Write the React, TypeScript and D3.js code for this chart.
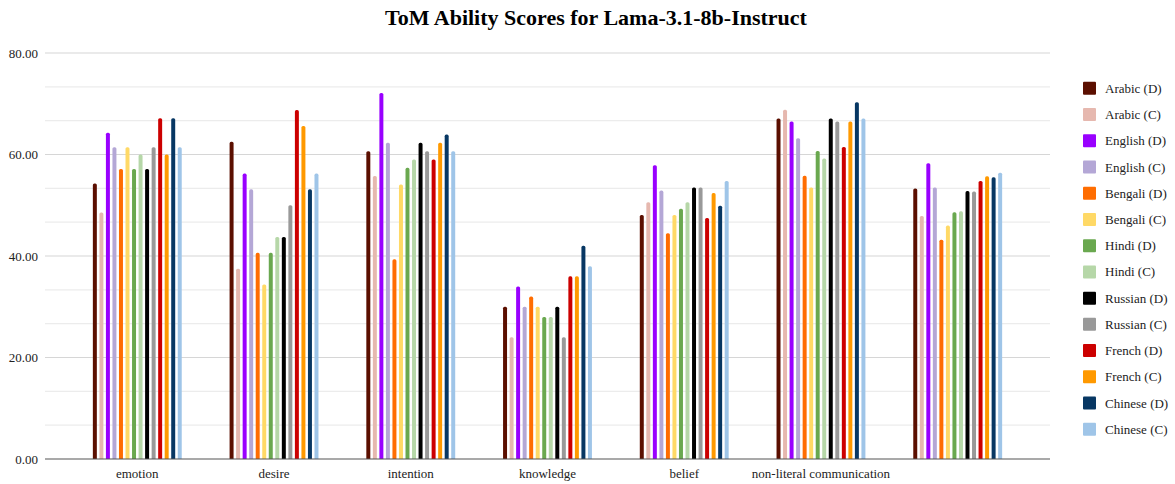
import React from 'react'
import * as d3 from 'd3'

const categories = ['emotion', 'desire', 'intention', 'knowledge', 'belief', 'non-literal communication', '']

const seriesNames = [
    'Arabic (D)', 'Arabic (C)', 'English (D)', 'English (C)', 'Bengali (D)', 'Bengali (C)', 'Hindi (D)',
    'Hindi (C)', 'Russian (D)', 'Russian (C)', 'French (D)', 'French (C)', 'Chinese (D)', 'Chinese (C)',
]

const seriesColors = [
    '#5b0f00', '#e6b8af', '#9900ff', '#b4a7d6', '#ff6d01', '#ffd966', '#6aa84f',
    '#b6d7a8', '#000000', '#999999', '#cc0000', '#ff9900', '#073763', '#9fc5e8',
]

// one row per category, one value per series (same order as seriesNames)
const emotion = [54.29, 48.57, 64.29, 61.43, 57.14, 61.43, 57.14, 60.0, 57.14, 61.43, 67.14, 60.0, 67.14, 61.43]
const desire = [62.5, 37.5, 56.25, 53.13, 40.63, 34.38, 40.63, 43.75, 43.75, 50.0, 68.75, 65.63, 53.13, 56.25]
const intention = [60.66, 55.74, 72.13, 62.3, 39.34, 54.1, 57.38, 59.02, 62.3, 60.66, 59.02, 62.3, 63.93, 60.66]
const knowledge = [30, 24, 34, 30, 32, 30, 28, 28, 30, 24, 36, 36, 42, 38]
const belief = [48.1, 50.6, 57.9, 52.9, 44.5, 48.1, 49.3, 50.6, 53.5, 53.5, 47.5, 52.4, 49.9, 54.8]
const nonLiteral = [67.1, 68.8, 66.5, 63.2, 55.8, 53.5, 60.7, 59.2, 67.1, 66.5, 61.5, 66.5, 70.3, 67.1]
const overall = [53.3, 47.9, 58.3, 53.5, 43.2, 46.0, 48.6, 48.8, 52.8, 52.7, 54.8, 55.7, 55.5, 56.4]

const values = [emotion, desire, intention, knowledge, belief, nonLiteral, overall]

const yTicks = [0, 20, 40, 60, 80]

const W = 1175
const H = 484
const left = 45
const right = 1050
const top = 53
const bottom = 459
const font = '"Liberation Serif", "Times New Roman", serif'

function barPath(x: number, y: number, w: number, h: number, r: number) {
    const rr = Math.min(r, h, w / 2)
    return `M${x},${y + h}V${y + rr}Q${x},${y} ${x + rr},${y}H${x + w - rr}Q${x + w},${y} ${x + w},${y + rr}V${y + h}Z`
}

export default function App() {
    const x0 = d3.scaleBand().domain(categories.map((c, i) => String(i))).range([left, right]).paddingInner(0.35).paddingOuter(0.35)
    const x1 = d3.scaleBand().domain(seriesNames).range([0, x0.bandwidth()]).paddingInner(0.39)
    const y = d3.scaleLinear().domain([0, 80]).range([bottom, top])

    // minor gridlines at thirds of each major step
    const minor = d3.range(0, 80, 20 / 3).filter((v) => Math.abs(v % 20) > 0.01 && Math.abs((v % 20) - 20) > 0.01)

    return (
        <svg width={W} height={H} style={{ position: 'absolute', left: 0, top: 0, background: '#fff' }} fontFamily={font}>
            <text x={596} y={25} textAnchor="middle" fontSize={22} fontWeight="bold" fill="#000">
                ToM Ability Scores for Lama-3.1-8b-Instruct
            </text>
            {minor.map((v) => (
                <line key={'m' + v} x1={left} x2={right} y1={y(v)} y2={y(v)} stroke="#ececec" strokeWidth={1.2} />
            ))}
            {yTicks.map((v) => (
                <g key={v}>
                    {v > 0 && <line x1={left} x2={right} y1={y(v)} y2={y(v)} stroke="#d6d6d6" strokeWidth={1.2} />}
                    <text x={38} y={y(v)} dy="0.35em" textAnchor="end" fontSize={13} fill="#222">
                        {d3.format('.2f')(v)}
                    </text>
                </g>
            ))}
            {values.map((row, ci) => (
                <g key={ci} transform={`translate(${x0(String(ci))},0)`}>
                    {row.map((v, si) => (
                        <path
                            key={si}
                            d={barPath(x1(seriesNames[si])!, y(v), x1.bandwidth(), bottom - y(v), 1.6)}
                            fill={seriesColors[si]}
                        />
                    ))}
                    <text x={x0.bandwidth() / 2} y={478} textAnchor="middle" fontSize={13} fill="#222">
                        {categories[ci]}
                    </text>
                </g>
            ))}
            <line x1={left} x2={right} y1={bottom} y2={bottom} stroke="#555" strokeWidth={1.2} />
            {seriesNames.map((s, i) => (
                <g key={s} transform={`translate(1083,${88.3 + i * 26.23})`}>
                    <rect x={0} y={-6.5} width={13} height={13} rx={1} fill={seriesColors[i]} />
                    <text x={22} y={0} dy="0.35em" fontSize={13} fill="#222">
                        {s}
                    </text>
                </g>
            ))}
        </svg>
    )
}
